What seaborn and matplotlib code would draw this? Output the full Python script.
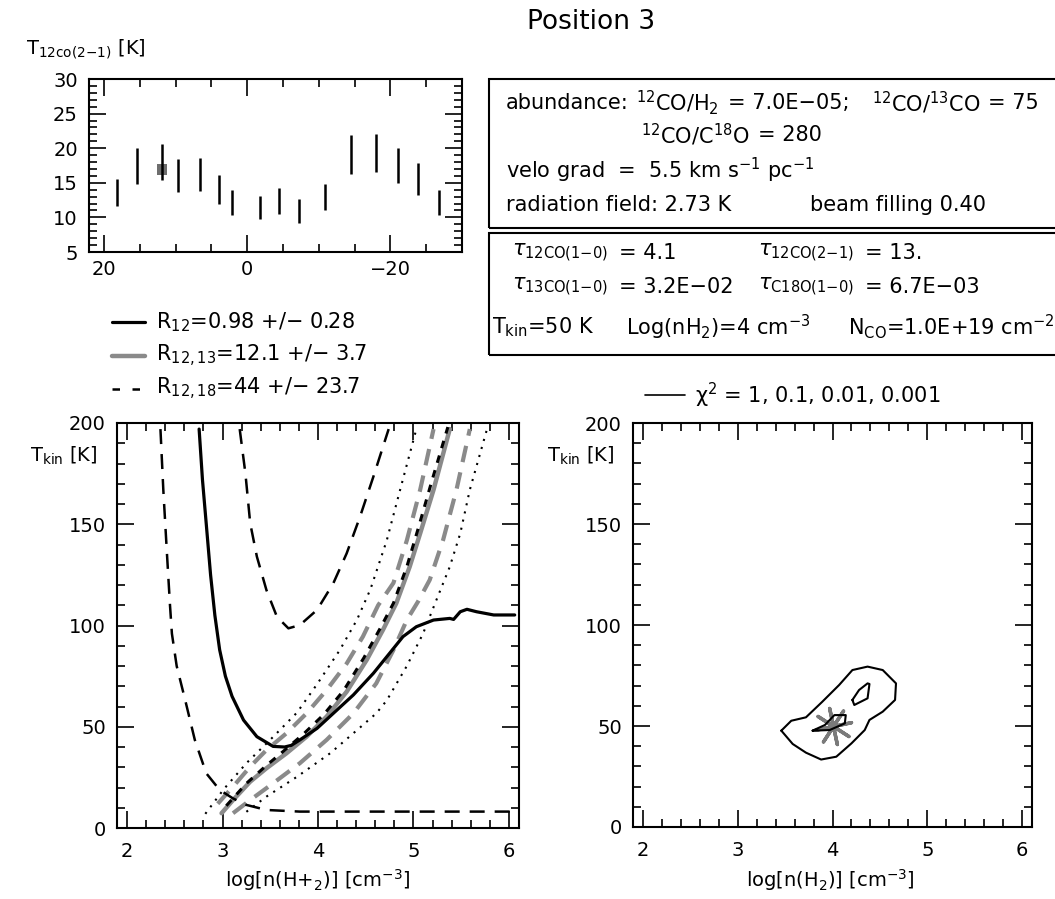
import matplotlib
matplotlib.use("Agg")
import matplotlib.pyplot as plt
from matplotlib.patches import Rectangle
from matplotlib.lines import Line2D
from matplotlib.ticker import MultipleLocator
import seaborn as sns

# ---------------- data ----------------
# top panel: T_12co(2-1) vs velocity
vel = [18.2, 15.4, 11.9, 9.6, 6.6, 4.0, 2.1, -1.8, -4.5, -7.2, -10.8, -14.5, -18.0, -21.0, -23.9, -26.8]
tmb = [13.65, 17.4, 18.0, 16.0, 16.2, 14.05, 12.1, 11.4, 12.4, 10.95, 12.95, 19.1, 19.3, 17.5, 15.6, 12.1]
terr = [1.95, 2.6, 2.6, 2.4, 2.4, 2.05, 1.8, 1.7, 1.9, 1.75, 1.85, 2.8, 2.8, 2.6, 2.3, 1.8]
sel_vel = [11.9]
sel_t = [16.9]

# left panel: line-ratio curves  (log n, T_kin)
r12_x = [2.755, 2.79, 2.83, 2.875, 2.92, 2.97, 3.03, 3.10, 3.22, 3.36, 3.53, 3.65, 3.72, 3.81, 3.99, 4.16,
         4.37, 4.58, 4.75, 4.89, 5.03, 5.21, 5.38, 5.42, 5.49, 5.56, 5.66, 5.84, 6.06]
r12_t = [197, 172, 150, 125, 105, 88, 75, 65, 53.3, 45.1, 40.3, 40.0, 40.8, 43.5, 49.2, 56.6,
         65.7, 76.4, 86.3, 94.5, 99.4, 102.7, 103.5, 103, 106.8, 108, 106.8, 105.2, 105.2]

r12lo_x = [2.82, 3.01, 3.25, 3.53, 3.78, 3.99, 4.23, 4.41, 4.55, 4.72, 4.86, 5.03]
r12lo_t = [7, 19, 32, 45, 57, 71, 88, 103, 118, 142, 167, 197]
r12hi_x = [3.25, 3.46, 3.78, 4.13, 4.41, 4.61, 4.72, 4.93, 5.10, 5.24, 5.38, 5.49, 5.59, 5.77]
r12hi_t = [8, 15.5, 25.3, 37, 48.4, 56.6, 63, 80, 96, 112.6, 129, 145.5, 167, 197]

r1213_x = [2.99, 3.11, 3.29, 3.46, 3.67, 3.88, 4.09, 4.30, 4.51, 4.68, 4.82, 4.96, 5.07, 5.21, 5.38]
r1213_t = [7.3, 13.8, 22.9, 29.5, 36.9, 45.1, 55, 67.3, 83, 97.8, 111, 129, 145.5, 167, 197]
r1213lo_x = [2.95, 3.11, 3.29, 3.46, 3.67, 3.88, 4.09, 4.30, 4.47, 4.63, 4.79, 4.93, 5.07, 5.21]
r1213lo_t = [12, 20.4, 30.3, 38.5, 46.8, 56.6, 68.1, 81.2, 94.5, 110, 121, 142, 167, 197]
r1213hi_x = [3.11, 3.29, 3.53, 3.81, 4.09, 4.37, 4.61, 4.79, 4.93, 5.05, 5.17, 5.31, 5.45, 5.59]
r1213hi_t = [7.3, 13.8, 22.1, 32, 43.5, 56.6, 71.4, 87.9, 102.7, 112, 122.5, 142.2, 167, 197]

r1218_x = [3.04, 3.25, 3.45, 3.64, 3.85, 4.06, 4.27, 4.48, 4.65, 4.79, 4.93, 5.05, 5.19, 5.36]
r1218_t = [11, 22, 30.5, 38, 46.5, 56, 68, 84, 98.5, 111, 129, 148, 171, 198]
r1218lo_x = [2.35, 2.38, 2.42, 2.45, 2.47, 2.52, 2.61, 2.71, 2.83, 2.97, 3.11, 3.25, 3.46, 3.81, 6.06]
r1218lo_t = [197, 167, 134, 110, 96, 80, 63, 43.5, 27, 18.8, 14.6, 11.4, 8.9, 8.1, 8.1]
r1218hi_x = [3.18, 3.24, 3.29, 3.36, 3.46, 3.57, 3.69, 3.81, 3.99, 4.16, 4.30, 4.44, 4.58, 4.74]
r1218hi_t = [197, 175, 150.5, 134, 117.5, 104.3, 98.6, 100.2, 107.7, 120.8, 135.6, 153.7, 173.5, 197]

# right panel: chi^2 contours
c1_x = [3.46, 3.565, 3.72, 3.89, 4.07, 4.21, 4.37, 4.53, 4.67, 4.66, 4.53, 4.39, 4.34, 4.20, 4.04, 3.88, 3.72, 3.58, 3.46]
c1_t = [47.7, 52.6, 54.3, 61.9, 70.3, 77.7, 79.4, 77.7, 71.1, 62.9, 57.1, 53, 48, 41.4, 34.8, 33.4, 36.8, 41.1, 47.7]
c2_x = [4.21, 4.28, 4.37, 4.39, 4.37, 4.23, 4.21]
c2_t = [62.9, 67.8, 71.1, 70.8, 63.7, 60.4, 62.9]
c3_x = [3.79, 3.92, 4.02, 4.14, 4.13, 3.97, 3.79]
c3_t = [47.7, 50.5, 55.4, 55.4, 51.3, 48, 47.7]
best_x = [4.0]
best_t = [50]

W, H = 1055, 899

sns.set_theme(style="ticks")
plt.rcParams.update({
    "font.family": ["DejaVu Sans"],
    "mathtext.fontset": "dejavusans",
    "mathtext.default": "regular",
    "font.size": 14,
    "axes.linewidth": 1.5,
    "axes.edgecolor": "black",
    "xtick.color": "black",
    "ytick.color": "black",
    "text.color": "black",
})

fig = plt.figure(figsize=(W / 100, H / 100), dpi=100)


def rect(x0, y0, x1, y1):
    return [x0 / W, 1 - y1 / H, (x1 - x0) / W, (y1 - y0) / H]


def fx(px):
    return px / W


def fy(py):
    return 1 - py / H


def style_axes(ax, xmaj, xmin, ymaj, ymin, xpad=8, ypad=8):
    ax.xaxis.set_major_locator(MultipleLocator(xmaj))
    ax.xaxis.set_minor_locator(MultipleLocator(xmin))
    ax.yaxis.set_major_locator(MultipleLocator(ymaj))
    ax.yaxis.set_minor_locator(MultipleLocator(ymin))
    ax.tick_params(which="both", direction="in", top=True, right=True, width=1.2, labelsize=14)
    ax.tick_params(which="major", length=12)
    ax.tick_params(which="minor", length=6)
    ax.tick_params(axis="x", which="both", pad=xpad)
    ax.tick_params(axis="y", which="both", pad=ypad)
    for s in ax.spines.values():
        s.set_visible(True)
        s.set_linewidth(1.5)
    ax.set_xlabel("")
    ax.set_ylabel("")


# ---- top-left panel ----
ax0 = fig.add_axes(rect(89, 79, 462, 252))
ax0.errorbar(vel, tmb, yerr=terr, fmt="none", ecolor="black", elinewidth=1.8, capsize=0)
sns.scatterplot(x=sel_vel, y=sel_t, marker="s", s=60, color="#6e6e6e", edgecolor="none", ax=ax0)
ax0.set_xlim(22.1, -30.0)
ax0.set_ylim(5, 30)
style_axes(ax0, 20, 5, 5, 1, xpad=6, ypad=8)

# ---- left main panel ----
ax1 = fig.add_axes(rect(117, 423, 519, 828))
common = dict(ax=ax1, sort=False, estimator=None, legend=False)
sns.lineplot(x=r12lo_x, y=r12lo_t, color="black", lw=1.5, linestyle=(0, (1, 3)), **common)
sns.lineplot(x=r12hi_x, y=r12hi_t, color="black", lw=1.5, linestyle=(0, (1, 3)), **common)
sns.lineplot(x=r1213lo_x, y=r1213lo_t, color="#8a8a8a", lw=3, linestyle=(0, (4, 2.5)), **common)
sns.lineplot(x=r1213hi_x, y=r1213hi_t, color="#8a8a8a", lw=3, linestyle=(0, (4, 2.5)), **common)
sns.lineplot(x=r1213_x, y=r1213_t, color="#8a8a8a", lw=3.2, **common)
sns.lineplot(x=r1218_x, y=r1218_t, color="black", lw=2.2, linestyle=(0, (2.5, 2.5)), **common)
sns.lineplot(x=r1218lo_x, y=r1218lo_t, color="black", lw=1.8, linestyle=(0, (6, 4)), **common)
sns.lineplot(x=r1218hi_x, y=r1218hi_t, color="black", lw=1.8, linestyle=(0, (6, 4)), **common)
sns.lineplot(x=r12_x, y=r12_t, color="black", lw=2.3, **common)
ax1.set_xlim(1.895, 6.105)
ax1.set_ylim(0, 200)
style_axes(ax1, 1, 0.2, 50, 10, xpad=10, ypad=8)

# ---- right main panel ----
ax2 = fig.add_axes(rect(633, 423, 1032, 827))
common2 = dict(ax=ax2, sort=False, estimator=None, legend=False)
sns.lineplot(x=c1_x, y=c1_t, color="black", lw=1.5, **common2)
sns.lineplot(x=c2_x, y=c2_t, color="black", lw=1.5, **common2)
sns.lineplot(x=c3_x, y=c3_t, color="black", lw=1.5, **common2)
sns.scatterplot(x=best_x, y=best_t, marker=(8, 2, 12), s=700, color="#7a7a7a", linewidth=2.5, ax=ax2, legend=False)
ax2.set_xlim(1.895, 6.105)
ax2.set_ylim(0, 200)
style_axes(ax2, 1, 0.2, 50, 10, xpad=10, ypad=8)

# ---- labels ----
fig.text(fx(591), fy(22), "Position 3", ha="center", va="center", fontsize=19)
fig.text(fx(26), fy(49), "T$_{12co(2{-}1)}$ [K]", ha="left", va="center", fontsize=14)
fig.text(fx(30), fy(456), "T$_{kin}$ [K]", ha="left", va="center", fontsize=14)
fig.text(fx(547), fy(456), "T$_{kin}$ [K]", ha="left", va="center", fontsize=14)
fig.text(fx(318), fy(880), "log[n(H+$_2$)] [cm$^{-3}$]", ha="center", va="center", fontsize=14)
fig.text(fx(830), fy(880), "log[n(H$_2$)] [cm$^{-3}$]", ha="center", va="center", fontsize=14)

FS = 15
# legend of left panel
leg_rows = [(322, "R$_{12}$=0.98 +/\u2212 0.28", dict(color="black", lw=2.3)),
            (356, "R$_{12,13}$=12.1 +/\u2212 3.7", dict(color="#8a8a8a", lw=3.2)),
            (389, "R$_{12,18}$=44 +/\u2212 23.7", dict(color="black", lw=1.8, linestyle=(0, (3, 5))))]
for py, txt, kw in leg_rows:
    fig.add_artist(Line2D([fx(112), fx(145)], [fy(py), fy(py)], transform=fig.transFigure, **kw))
    fig.text(fx(156), fy(py), txt, ha="left", va="center", fontsize=FS)

# legend of right panel
fig.add_artist(Line2D([fx(645), fx(685)], [fy(395), fy(395)], transform=fig.transFigure, color="black", lw=1.2))
fig.text(fx(695), fy(395), "$\\chi^2$ = 1, 0.1, 0.01, 0.001", ha="left", va="center", fontsize=FS)

# parameter boxes
for y0, y1 in [(79, 228), (233, 355)]:
    fig.add_artist(Rectangle((fx(489), fy(y1)), (1065 - 489) / W, (y1 - y0) / H,
                             transform=fig.transFigure, fill=False, ec="black", lw=1.5, clip_on=False))

box_txt = [
    (506, 103, "abundance:"),
    (636, 103, "$^{12}$CO/H$_2$"),
    (728, 103, "= 7.0E\u221205;"),
    (872, 103, "$^{12}$CO/$^{13}$CO"),
    (988, 103, "= 75"),
    (641, 135, "$^{12}$CO/C$^{18}$O"),
    (758, 135, "= 280"),
    (506, 170, "velo grad  =  5.5 km s$^{-1}$ pc$^{-1}$"),
    (506, 205, "radiation field: 2.73 K"),
    (810, 205, "beam filling 0.40"),
    (512, 253, "$\\mathit{\\tau}_{12CO(1{-}0)}$"),
    (619, 253, "= 4.1"),
    (758, 253, "$\\mathit{\\tau}_{12CO(2{-}1)}$"),
    (865, 253, "= 13."),
    (512, 287, "$\\mathit{\\tau}_{13CO(1{-}0)}$"),
    (619, 287, "= 3.2E\u221202"),
    (758, 287, "$\\mathit{\\tau}_{C18O(1{-}0)}$"),
    (865, 287, "= 6.7E\u221203"),
    (492, 327, "T$_{kin}$=50 K"),
    (626, 327, "Log(nH$_2$)=4 cm$^{-3}$"),
    (848, 327, "N$_{CO}$=1.0E+19 cm$^{-2}$"),
]
for px, py, txt in box_txt:
    fig.text(fx(px), fy(py), txt, ha="left", va="center", fontsize=FS)

fig.savefig("out.png", dpi=100)
